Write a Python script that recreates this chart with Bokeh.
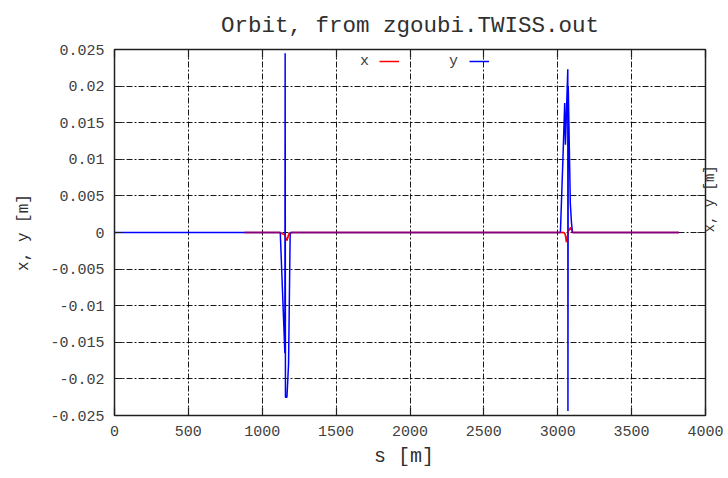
from bokeh.plotting import figure
from bokeh.models import (LinearAxis, FixedTicker, Range1d, Label, Legend,
                          LegendItem)
from bokeh.embed import file_html
from bokeh.resources import INLINE
import math

# ---- data ----
s_x = [880, 1120, 1150, 1167, 1180, 1200, 3000, 3040, 3050, 3059, 3072, 3088, 3100, 3820]
x_vals = [0, 0, -0.0003, -0.0011, -0.0002, 0, 0, 0, -0.0002, -0.0013, 0.0002, 0.0007, 0, 0]

s_y = [0, 880, 1100, 1122, 1153, 1155, 1157, 1167, 1178, 1189, 1200,
       3000, 3018, 3035, 3047, 3052, 3068, 3069, 3071, 3085, 3093, 3100, 3820]
y_vals = [0, 0, 0, 0, -0.0165, 0.0245, -0.0225, -0.0225, -0.018, 0, 0,
          0, 0, 0.010, 0.0177, 0.012, 0.0223, -0.0244, 0.020, 0.004, 0.0013, 0, 0]

x_ticks = [0, 500, 1000, 1500, 2000, 2500, 3000, 3500, 4000]
x_tick_labels = ["0", "500", "1000", "1500", "2000", "2500", "3000", "3500", "4000"]
y_ticks = [-0.025, -0.02, -0.015, -0.01, -0.005, 0, 0.005, 0.01, 0.015, 0.02, 0.025]
y_tick_labels = ["-0.025", "-0.02", "-0.015", "-0.01", "-0.005", "0",
                 "0.005", "0.01", "0.015", "0.02", "0.025"]

series_names = ["x", "y"]
TITLE = "Orbit, from zgoubi.TWISS.out"
XLABEL = "s  [m]"
YLABEL = "x, y [m]"

MONO = "Liberation Mono"
TXT = "#404040"

p = figure(width=728, height=470,
           x_range=Range1d(0, 4000), y_range=Range1d(-0.025, 0.025),
           output_backend="svg", toolbar_location=None,
           min_border_left=114, min_border_right=22,
           min_border_top=48, min_border_bottom=48)

p.title.text = TITLE
p.title.align = "center"
p.title.text_font = MONO
p.title.text_font_size = "22.5px"
p.title.text_font_style = "normal"
p.title.text_color = "#303030"
p.title.standoff = 21

p.outline_line_color = "#202020"
p.outline_line_width = 1.5
p.background_fill_color = "white"
p.border_fill_color = "white"

# grid
for g in (p.xgrid, p.ygrid):
    g.grid_line_color = "black"
    g.grid_line_dash = "6 2 2 2"
    g.grid_line_width = 1
    g.grid_line_alpha = 0.9
p.xgrid.ticker = FixedTicker(ticks=x_ticks[1:-1])
p.ygrid.ticker = FixedTicker(ticks=y_ticks[1:-1])

def style_axis(ax, ticks, labels, show_labels=True):
    ax.ticker = FixedTicker(ticks=ticks)
    ax.major_label_overrides = {t: l for t, l in zip(ticks, labels)}
    ax.major_tick_in = 8
    ax.major_tick_out = 0
    ax.minor_tick_line_color = None
    ax.major_tick_line_color = "#202020"
    ax.major_tick_line_width = 1.2
    ax.axis_line_color = None
    ax.major_label_text_font = MONO
    ax.major_label_text_font_size = "15px"
    ax.major_label_text_color = TXT if show_labels else None
    ax.major_label_standoff = 10

style_axis(p.xaxis[0], x_ticks, x_tick_labels)
style_axis(p.yaxis[0], y_ticks, y_tick_labels)
p.xaxis[0].axis_label = XLABEL
p.xaxis[0].axis_label_text_font = MONO
p.xaxis[0].axis_label_text_font_size = "20px"
p.xaxis[0].axis_label_text_font_style = "normal"
p.xaxis[0].axis_label_text_color = "#303030"
p.xaxis[0].axis_label_standoff = 6
p.yaxis[0].axis_label = YLABEL
p.yaxis[0].axis_label_text_font = MONO
p.yaxis[0].axis_label_text_font_size = "16px"
p.yaxis[0].axis_label_text_font_style = "normal"
p.yaxis[0].axis_label_text_color = "#303030"
p.yaxis[0].axis_label_standoff = 14

top_ax = LinearAxis()
style_axis(top_ax, x_ticks, x_tick_labels, show_labels=False)
top_ax.major_label_text_font_size = "0px"
top_ax.major_label_standoff = 0
p.add_layout(top_ax, "above")

# right axis: ticks inside, and the label of the neighbouring plot
right_ax = LinearAxis()
style_axis(right_ax, y_ticks, y_tick_labels, show_labels=False)
right_ax.major_label_text_font_size = "0px"
right_ax.major_label_standoff = 0
right_ax.axis_label = YLABEL
right_ax.axis_label_text_font = MONO
right_ax.axis_label_text_font_size = "14px"
right_ax.axis_label_text_font_style = "normal"
right_ax.axis_label_text_color = "#303030"
right_ax.axis_label_standoff = 4
if "axis_label_orientation" in right_ax.properties():
    right_ax.axis_label_orientation = math.pi / 2
    right_ax.axis_label_text_align = "center"
    right_ax.axis_label_text_baseline = "middle"
p.add_layout(right_ax, "right")

# data lines: solid red x, blue y over it, then a half-transparent red x
# on top so that where both lie on zero the line looks purple
rx_solid = p.line(s_x, x_vals, line_color="#ff0000", line_width=1.5)
ry = p.line(s_y, y_vals, line_color="#0000ff", line_width=1.5)
rx = p.line(s_x, x_vals, line_color="#ff0000", line_width=1.5, line_alpha=0.5)

# legend: label before the sample, as in the reference
for name, rend, gx, tx in ((series_names[0], rx_solid, 265, 250),
                           (series_names[1], ry, 355, 339)):
    lg = Legend(items=[LegendItem(label=" ", renderers=[rend])],
                location=(gx, 344), orientation="horizontal",
                glyph_width=20, glyph_height=20, label_standoff=0,
                padding=0, margin=0, spacing=0,
                background_fill_alpha=0, border_line_alpha=0,
                label_text_font=MONO, label_text_font_size="15px",
                label_text_color=TXT)
    p.add_layout(lg)
    p.add_layout(Label(x=tx, y=354, x_units="screen", y_units="screen",
                       text=name, text_align="center", text_baseline="middle",
                       text_font=MONO, text_font_size="15px",
                       text_color=TXT))

open("out.html", "w").write(file_html(p, INLINE))
